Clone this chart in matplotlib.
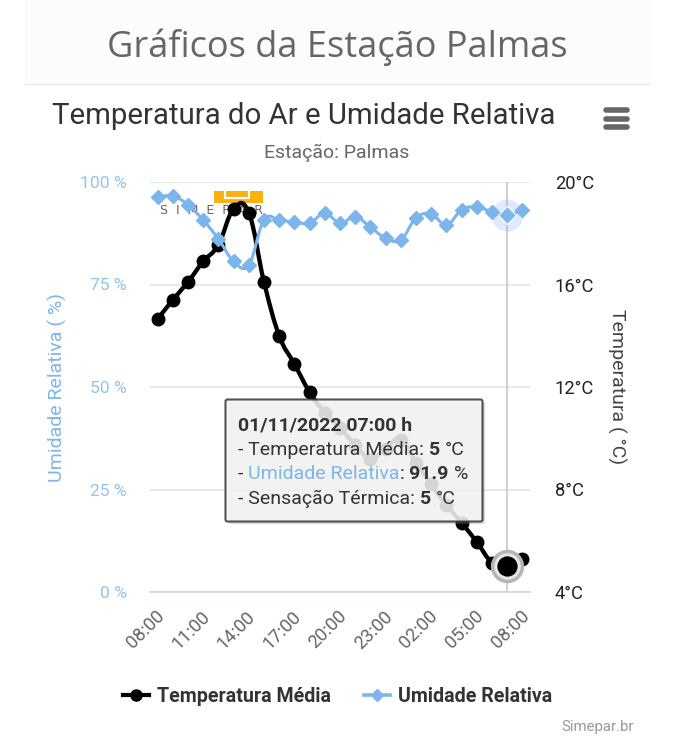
import matplotlib
matplotlib.use("Agg")
import matplotlib.pyplot as plt
from matplotlib.lines import Line2D
from matplotlib.patches import FancyBboxPatch, PathPatch, Rectangle
from matplotlib.path import Path
from matplotlib.transforms import Affine2D, ScaledTranslation

# data
hours = ["08:00", "09:00", "10:00", "11:00", "12:00", "13:00", "14:00", "15:00", "16:00",
         "17:00", "18:00", "19:00", "20:00", "21:00", "22:00", "23:00", "00:00", "01:00",
         "02:00", "03:00", "04:00", "05:00", "06:00", "07:00", "08:00"]
temperatura = [14.65, 15.4, 16.1, 16.9, 17.55, 18.95, 18.8, 16.1, 14.0, 12.9, 11.8, 11.0, 10.4,
               9.75, 9.2, 9.6, 9.95, 9.05, 8.2, 7.4, 6.7, 5.95, 5.15, 5.0, 5.3]
umidade = [96.3, 96.6, 94.4, 90.7, 86.1, 80.7, 79.8, 90.7, 90.7, 90.2, 90.0, 92.4, 90.0,
           91.5, 89.0, 86.3, 85.9, 91.2, 92.2, 89.5, 93.2, 93.9, 92.7, 91.9, 93.2]
umidade_ticks = [0, 25, 50, 75, 100]
temperatura_ticks = [4, 8, 12, 16, 20]
hover = 23

AZUL = "#7cb5ec"
W, H = 674, 750

fig = plt.figure(figsize=(W / 100, H / 100), dpi=100, facecolor="white")
# pixel coordinates of the screenshot, y going down
px = Affine2D().scale(1, -1).translate(0, H)


def spline(xs, ys):
    # same smoothing as a highcharts spline series
    verts = [(xs[0], ys[0])]
    codes = [Path.MOVETO]
    n = len(xs)
    for i in range(1, n):
        a = max(i - 1, 0)
        b = min(i + 1, n - 1)
        # control point leaving the previous point
        p = i - 1
        pa = max(p - 1, 0)
        c1x = (1.5 * xs[p] + xs[i]) / 2.5
        c1y = (1.5 * ys[p] + ys[i]) / 2.5
        lx = (1.5 * xs[p] + xs[pa]) / 2.5
        ly = (1.5 * ys[p] + ys[pa]) / 2.5
        if c1x != lx:
            slope = (c1y - ly) / (c1x - lx)
            c1y = ys[p] + slope * (c1x - xs[p])
        # control point arriving at this point
        c2x = (1.5 * xs[i] + xs[a]) / 2.5
        c2y = (1.5 * ys[i] + ys[a]) / 2.5
        rx = (1.5 * xs[i] + xs[b]) / 2.5
        ry = (1.5 * ys[i] + ys[b]) / 2.5
        if rx != c2x:
            slope = (ry - c2y) / (rx - c2x)
            c2y = ys[i] + slope * (c2x - xs[i])
        verts += [(c1x, c1y), (c2x, c2y), (xs[i], ys[i])]
        codes += [Path.CURVE4, Path.CURVE4, Path.CURVE4]
    return Path(verts, codes)


# page header
fig.add_artist(Rectangle((25, 0), 625, 83, transform=px, fc="#fcfcfc", ec="none", zorder=-2))
fig.add_artist(Line2D([25, 650], [83.5, 83.5], transform=px, color="#e6e6e6", lw=0.9))
fig.text(337.5, 47, "Gráficos da Estação Palmas", transform=px, family="Open Sans", fontsize=26,
         color="#666666", ha="center", va="center")
fig.text(304, 116, "Temperatura do Ar e Umidade Relativa", transform=px, family="Roboto", fontsize=21.2,
         color="#333333", ha="center", va="center")
fig.text(337, 153, "Estação: Palmas", transform=px, family="Roboto", fontsize=14,
         color="#666666", ha="center", va="center")
for y in [110, 118.5, 127]:
    fig.add_artist(Line2D([605.5, 626.5], [y, y], transform=px, color="#666666", lw=4, solid_capstyle="round"))

# axes: left one is the humidity, drawn over the temperature
ax2 = fig.add_axes([150 / W, (H - 592) / H, 380 / W, 410 / H])
ax1 = ax2.twinx()
ax2.yaxis.tick_right()
ax2.yaxis.set_label_position("right")
ax1.yaxis.tick_left()
ax1.yaxis.set_label_position("left")
ax1.set_zorder(ax2.get_zorder() + 1)
ax1.patch.set_visible(False)

x = list(range(len(hours)))
ax2.set_xlim(-0.5, 24.5)
ax1.set_ylim(0, 100)
ax2.set_ylim(4, 20)

for s in ["top", "left", "right"]:
    ax1.spines[s].set_visible(False)
    ax2.spines[s].set_visible(False)
ax1.spines["bottom"].set_color("#ccd6eb")
ax1.spines["bottom"].set_linewidth(1.2)
ax2.spines["bottom"].set_visible(False)

ax2.set_yticks(temperatura_ticks)
ax2.set_yticklabels(["%d°C" % t for t in temperatura_ticks], family="Roboto", fontsize=13.2, color="#222222")
ax2.tick_params(axis="y", length=0, pad=18)
ax2.set_xticks(x[::3])
ax2.set_xticklabels(hours[::3], family="Roboto", fontsize=13.2, color="#666666", rotation=45, ha="right",
                    rotation_mode="anchor")
ax2.tick_params(axis="x", length=0, pad=11)
for lab in ax2.get_xticklabels():
    lab.set_transform(lab.get_transform() + ScaledTranslation(-2.5 / 100, 0, fig.dpi_scale_trans))
ax2.grid(axis="y", color="#e6e6e6", lw=1.3)
ax2.set_axisbelow(True)
ax2.axvline(hover, color="#cccccc", lw=1.3, zorder=1)

ax1.set_yticks(umidade_ticks)
ax1.set_yticklabels(["%d %%" % u for u in umidade_ticks], family="Roboto", fontsize=12.6, color="#93c4ea")
ax1.tick_params(axis="y", length=0, pad=16.5)

ax1.set_ylabel("Umidade Relativa ( %)", family="Roboto", fontsize=14, color=AZUL, va="center")
ax1.yaxis.set_label_coords((57 - 150) / 380, 0.5)
ax2.set_ylabel("Temperatura ( °C)", family="Roboto", fontsize=14, color="#444444", rotation=270, va="center")
ax2.yaxis.set_label_coords((617 - 150) / 380, 0.5)

# simepar watermark behind the series
ax2.add_patch(Rectangle((214, 191), 49, 12, transform=px, fc="#f9b011", ec="none", zorder=1.2, clip_on=False))
ax2.add_line(Line2D([225, 225, 249, 249], [190, 197.5, 197.5, 190], transform=px, color="white", lw=1.6,
                    zorder=1.3, clip_on=False))
ax2.text(211, 210, "S  I  M  E  P  A  R", transform=px, family="DejaVu Sans", fontsize=9, color="#666666",
         ha="center", va="center", zorder=1.3, clip_on=False)

# series
ax2.add_patch(PathPatch(spline(x, temperatura), fc="none", ec="black", lw=3.1, zorder=2))
linha_temp, = ax2.plot(x, temperatura, ls="none", marker="o", ms=9, color="black", zorder=2.1)
ax1.add_patch(PathPatch(spline(x, umidade), fc="none", ec=AZUL, lw=2.2, zorder=2))
linha_umid, = ax1.plot(x, umidade, ls="none", marker="D", ms=6.8, color=AZUL, zorder=2.1)

# hovered point
ax2.plot(hover, temperatura[hover], marker="o", ms=23, color="#b5b5b5", zorder=2.2)
ax2.plot(hover, temperatura[hover], marker="o", ms=18, color="#e8e8e8", zorder=2.3)
ax2.plot(hover, temperatura[hover], marker="o", ms=13.6, color="black", zorder=2.4)
ax1.plot(hover, umidade[hover], marker="o", ms=23, color=AZUL, alpha=0.25, mew=0, zorder=2.2)
ax1.plot(hover, umidade[hover], marker="D", ms=9.5, color=AZUL, mec="white", mew=0.8, zorder=2.4)

# legend
h1 = Line2D([], [], color="black", lw=3, marker="o", ms=8)
h2 = Line2D([], [], color=AZUL, lw=2.6, marker="D", ms=5.8)
fig.legend([h1, h2], ["Temperatura Média", "Umidade Relativa"], loc="center", bbox_to_anchor=(338, 696),
           bbox_transform=px, ncol=2, frameon=False, handlelength=1.33, handletextpad=0.41, columnspacing=1.68,
           prop={"family": "Roboto", "weight": "bold", "size": 14.1}, labelcolor="#333333")

fig.text(634, 727, "Simepar.br", transform=px, family="Roboto", fontsize=10.8, color="#999999", ha="right",
         va="center")

# tooltip
fig.add_artist(FancyBboxPatch((228, 402), 257, 122, transform=px, boxstyle="round,pad=0,rounding_size=2",
                              fc="#888888", ec="none", alpha=0.3, zorder=5))
fig.add_artist(FancyBboxPatch((225.5, 399.5), 257, 122, transform=px, boxstyle="round,pad=0,rounding_size=2",
                              fc="#f7f7f7", ec="#333333", lw=1.5, alpha=0.84, zorder=5.1))
fig.canvas.draw()
rend = fig.canvas.get_renderer()


def tooltip_line(y, parts):
    # parts side by side: (text, weight, colour)
    cx = 238
    for texto, peso, cor in parts:
        t = fig.text(cx, y, texto, transform=px, family="Roboto", fontsize=14, weight=peso, color=cor,
                     ha="left", va="center", zorder=6)
        t.set_parse_math(False)
        cx += t.get_window_extent(rend).width


tooltip_line(425, [("01/11/2022 07:00 h", "bold", "#333333")])
tooltip_line(450, [("- Temperatura Média: ", "normal", "#333333"), ("5 ", "bold", "#333333"), ("°C", "normal", "#333333")])
tooltip_line(474, [("- ", "normal", "#333333"), ("Umidade Relativa", "normal", AZUL), (": ", "normal", "#333333"),
                   ("91.9 ", "bold", "#333333"), ("%", "normal", "#333333")])
tooltip_line(499, [("- Sensação Térmica: ", "normal", "#333333"), ("5 ", "bold", "#333333"), ("°C", "normal", "#333333")])

fig.savefig("out.png", dpi=100)
